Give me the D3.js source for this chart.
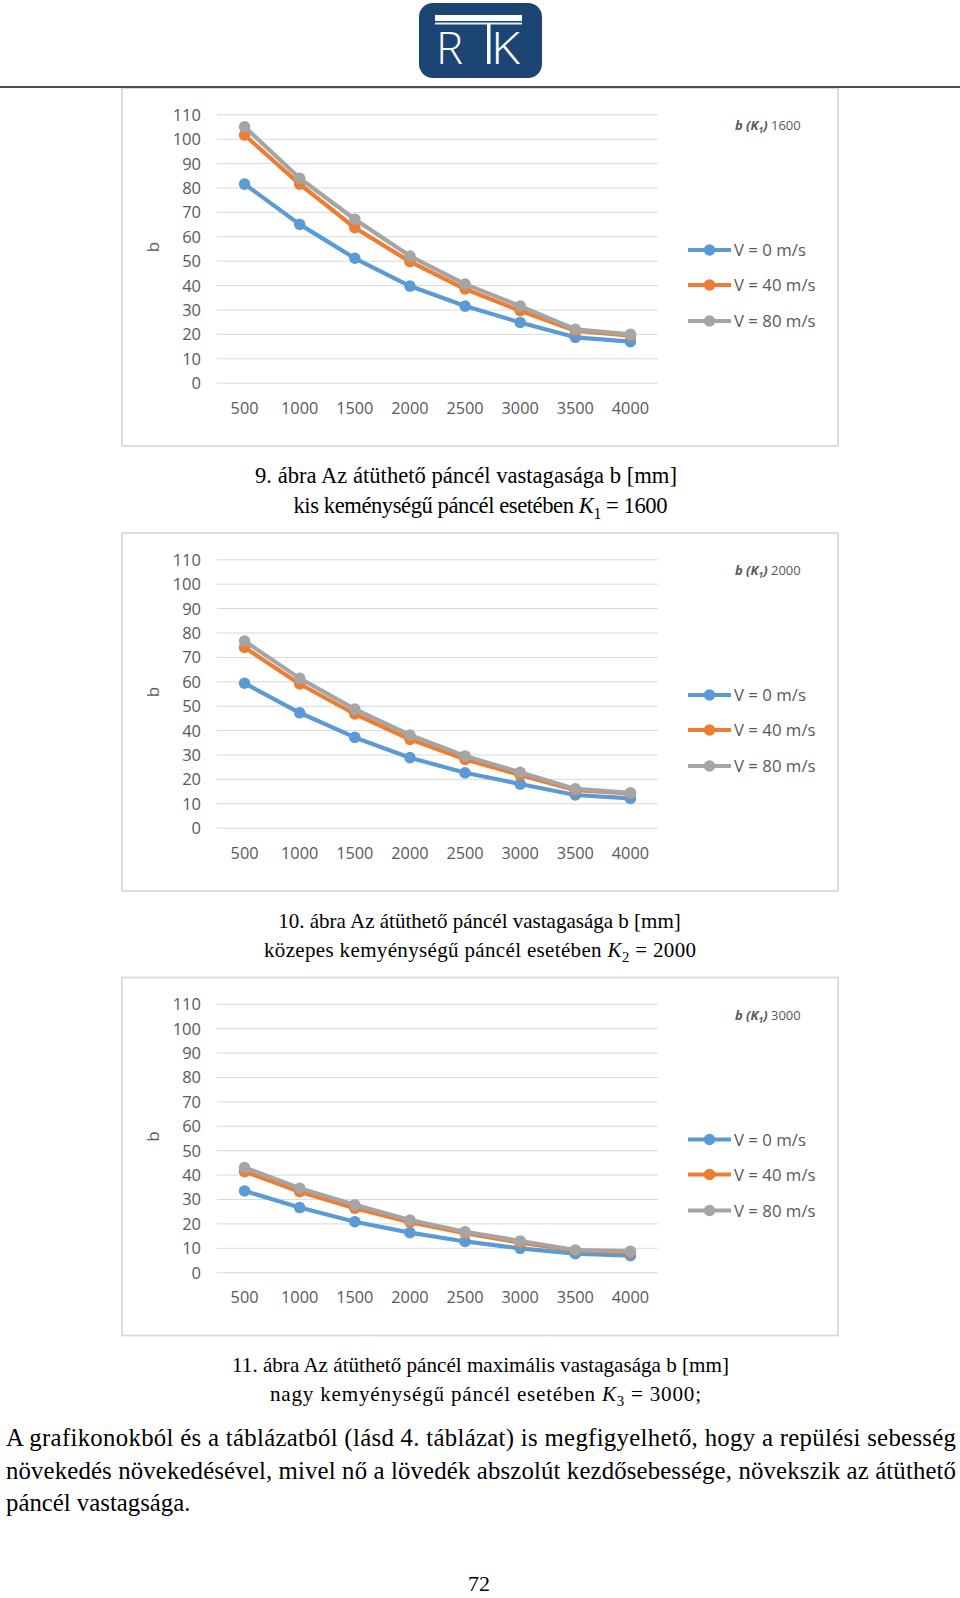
<!DOCTYPE html>
<html>
<head>
<meta charset="utf-8">
<script src="https://cdn.jsdelivr.net/npm/d3@7/dist/d3.min.js"></script>
<style>
  html, body { margin: 0; padding: 0; background: #fff; }
  svg { display: block; }
</style>
</head>
<body>
<svg id="page" width="960" height="1598"></svg>
<script>
// ---------------- DATA ----------------
const categories = [500, 1000, 1500, 2000, 2500, 3000, 3500, 4000];
const yTicks = [0, 10, 20, 30, 40, 50, 60, 70, 80, 90, 100, 110];
const seriesNames = ["V = 0 m/s", "V = 40 m/s", "V = 80 m/s"];
const seriesColors = ["#5b9bd5", "#ed7d31", "#a5a5a5"];

// K1 = 1600
const k1600_v0  = [81.4, 64.9, 51.0, 39.6, 31.4, 24.7, 18.6, 16.8];
const k1600_v40 = [101.5, 81.4, 63.5, 49.6, 38.4, 29.5, 21.3, 19.3];
const k1600_v80 = [104.9, 83.8, 67.0, 51.9, 40.4, 31.4, 21.9, 19.8];
// K2 = 2000
const k2000_v0  = [59.2, 47.1, 37.0, 28.7, 22.5, 17.9, 13.4, 12.0];
const k2000_v40 = [73.9, 58.9, 46.6, 36.2, 28.0, 21.6, 15.4, 14.1];
const k2000_v80 = [76.5, 61.2, 48.6, 38.0, 29.4, 22.7, 15.9, 14.3];
// K3 = 3000
const k3000_v0  = [33.3, 26.5, 20.7, 16.2, 12.6, 9.8, 7.6, 6.8];
const k3000_v40 = [41.2, 33.0, 26.2, 20.5, 16.0, 12.1, 8.9, 8.1];
const k3000_v80 = [42.9, 34.4, 27.6, 21.4, 16.6, 12.8, 9.1, 8.6];

const legendTitleValues = ["1600", "2000", "3000"];
const axisTitle = "b";

const captionLines = [
  ["9. ábra Az átüthető páncél vastagasága b [mm]", "kis keménységű páncél esetében ", "1", " = 1600"],
  ["10. ábra Az átüthető páncél vastagasága b [mm]", "közepes kemyénységű páncél esetében ", "2", " = 2000"],
  ["11. ábra Az átüthető páncél maximális vastagasága b [mm]", "nagy kemyénységű páncél esetében  ", "3", " = 3000;"]
];
const paragraphLines = [
  "A grafikonokból és a táblázatból (lásd 4. táblázat) is megfigyelhető, hogy a repülési sebesség",
  "növekedés növekedésével, mivel nő a lövedék abszolút kezdősebessége, növekszik az átüthető",
  "páncél vastagsága."
];
const pageNumber = "72";

const charts = [
  { dy: 0,     title: legendTitleValues[0], series: [k1600_v0, k1600_v40, k1600_v80] },
  { dy: 445,   title: legendTitleValues[1], series: [k2000_v0, k2000_v40, k2000_v80] },
  { dy: 889.5, title: legendTitleValues[2], series: [k3000_v0, k3000_v40, k3000_v80] }
];

// ---------------- DRAW ----------------
const svg = d3.select("#page");
const textColor = "#595959";
const chartFont = "'Open Sans', 'Noto Sans', sans-serif";
const serif = "'Liberation Serif', 'Times New Roman', serif";

// Logo
const logo = svg.append("g");
logo.append("rect").attr("x", 419).attr("y", 3).attr("width", 123).attr("height", 75)
  .attr("rx", 14).attr("fill", "#1d4573");
logo.append("rect").attr("x", 435).attr("y", 15).attr("width", 87).attr("height", 6).attr("fill", "#fff");
logo.append("rect").attr("x", 435).attr("y", 22.5).attr("width", 87).attr("height", 2).attr("fill", "#e8eef5");
logo.append("rect").attr("x", 487).attr("y", 24).attr("width", 3.5).attr("height", 40).attr("fill", "#fff");
logo.append("text").attr("x", 436).attr("y", 64).text("R")
  .attr("font-family", "'Open Sans', sans-serif").attr("font-weight", 300)
  .attr("font-size", 44).attr("fill", "#fff").attr("textLength", 27).attr("lengthAdjust", "spacingAndGlyphs");
logo.append("text").attr("x", 491).attr("y", 64).text("K")
  .attr("font-family", "'Open Sans', sans-serif").attr("font-weight", 300)
  .attr("font-size", 44).attr("fill", "#fff").attr("textLength", 29).attr("lengthAdjust", "spacingAndGlyphs");

// Charts
const xRange = [217, 658];
const x = d3.scaleBand().domain(categories).range(xRange).padding(0);
const xc = d => x(d) + x.bandwidth() / 2;

charts.forEach((c, ci) => {
  const g = svg.append("g").attr("transform", `translate(0,${c.dy})`);
  const y = d3.scaleLinear().domain([0, 110]).range([382.7, 114.3]);

  g.append("rect").attr("x", 122).attr("y", 88).attr("width", 716).attr("height", 358)
    .attr("fill", "#fff").attr("stroke", "#d9d9d9").attr("stroke-width", 1.8);

  // gridlines
  const grid = g.append("g").attr("transform", `translate(${xRange[0]},0)`)
    .call(d3.axisLeft(y).tickValues(yTicks).tickSize(-(xRange[1] - xRange[0])).tickFormat(""));
  grid.select(".domain").remove();
  grid.selectAll("line").attr("stroke", "#d9d9d9").attr("stroke-width", 1);

  // y labels
  const ya = g.append("g").attr("transform", `translate(${xRange[0]},0)`)
    .call(d3.axisLeft(y).tickValues(yTicks).tickSize(0).tickPadding(16));
  ya.select(".domain").remove();
  ya.selectAll("text").attr("font-family", chartFont).attr("font-size", 16.5)
    .attr("fill", textColor).attr("dy", "0.36em");

  // x labels
  const xa = g.append("g").attr("transform", `translate(0,${y(0)})`)
    .call(d3.axisBottom(x).tickSize(0).tickPadding(25));
  xa.select(".domain").remove();
  xa.selectAll("text").attr("font-family", chartFont).attr("font-size", 16.3)
    .attr("fill", textColor).attr("dy", "0.36em");

  // axis title
  g.append("text").attr("transform", "translate(153,247) rotate(-90)")
    .attr("text-anchor", "middle").attr("dy", "0.36em")
    .attr("font-family", chartFont).attr("font-size", 17).attr("fill", textColor)
    .text(axisTitle);

  // series
  const line = d3.line().x((d, i) => xc(categories[i])).y(d => y(d));
  c.series.forEach((s, si) => {
    g.append("path").datum(s).attr("d", line).attr("fill", "none")
      .attr("stroke", seriesColors[si]).attr("stroke-width", 4.2)
      .attr("stroke-linejoin", "round");
    g.selectAll(null).data(s).enter().append("circle")
      .attr("cx", (d, i) => xc(categories[i])).attr("cy", d => y(d)).attr("r", 5.8)
      .attr("fill", seriesColors[si]);
  });

  // legend title
  const lt = g.append("text").attr("x", 735).attr("y", 130)
    .attr("font-family", chartFont).attr("font-size", 13).attr("fill", textColor);
  lt.append("tspan").attr("font-weight", "bold").attr("font-style", "italic").text("b (K");
  lt.append("tspan").attr("font-weight", "bold").attr("font-style", "italic")
    .attr("font-size", 8.5).attr("dy", 3).text("1");
  lt.append("tspan").attr("font-weight", "bold").attr("font-style", "italic").attr("dy", -3).text(")");
  lt.append("tspan").text(" " + c.title);

  // legend items
  const legY = [250, 285, 321];
  seriesNames.forEach((name, si) => {
    g.append("line").attr("x1", 688).attr("x2", 731).attr("y1", legY[si]).attr("y2", legY[si])
      .attr("stroke", seriesColors[si]).attr("stroke-width", 4.2);
    g.append("circle").attr("cx", 709.5).attr("cy", legY[si]).attr("r", 5.8).attr("fill", seriesColors[si]);
    g.append("text").attr("x", 734).attr("y", legY[si]).attr("dy", "0.36em")
      .attr("font-family", chartFont).attr("font-size", 16.8).attr("fill", textColor).text(name);
  });
});

// Top rule (drawn on top of the first chart border)
svg.append("rect").attr("x", 0).attr("y", 86).attr("width", 960).attr("height", 2).attr("fill", "#4d4d4d");

// Captions
function fitWidth(sel, target) {
  const w = sel.node().getComputedTextLength();
  const fs = parseFloat(sel.attr("font-size"));
  const nfs = fs * target / w;
  sel.attr("font-size", nfs);
  return nfs;
}
const captionGeom = [
  { l1: [255, 677, 476], l2: [293.5, 667.5, 505.5] },
  { l1: [278, 681, 921], l2: [264, 696, 950] },
  { l1: [232, 729, 1365.5], l2: [270, 701, 1394] }
];
captionLines.forEach((cl, i) => {
  const geo = captionGeom[i];
  const t1 = svg.append("text").attr("x", (geo.l1[0] + geo.l1[1]) / 2).attr("y", geo.l1[2])
    .attr("dy", "0.33em").attr("text-anchor", "middle")
    .attr("font-family", serif).attr("font-size", 20).attr("fill", "#000").text(cl[0]);
  const fs = fitWidth(t1, geo.l1[1] - geo.l1[0]);
  const t2 = svg.append("text").attr("x", geo.l2[0]).attr("y", geo.l2[2] + 0.33 * fs)
    .attr("font-family", serif).attr("font-size", fs).attr("fill", "#000");
  t2.append("tspan").text(cl[1]);
  t2.append("tspan").attr("font-style", "italic").text("K");
  t2.append("tspan").attr("font-size", fs * 0.7).attr("dy", fs * 0.25).text(cl[2]);
  t2.append("tspan").attr("dy", -fs * 0.25).text(cl[3]);
  t2.attr("textLength", geo.l2[1] - geo.l2[0]).attr("lengthAdjust", "spacing");
});

// Paragraph
const p3 = svg.append("text").attr("x", 6).attr("y", 1503).attr("dy", "0.33em")
  .attr("font-family", serif).attr("font-size", 23).attr("fill", "#000").text(paragraphLines[2]);
const pfs = fitWidth(p3, 184.5);
[1438, 1470.5].forEach((yy, i) => {
  svg.append("text").attr("x", 6).attr("y", yy).attr("dy", "0.33em")
    .attr("font-family", serif).attr("font-size", pfs).attr("fill", "#000")
    .attr("textLength", 950).attr("lengthAdjust", "spacing").text(paragraphLines[i]);
});

// Page number
svg.append("text").attr("x", 479).attr("y", 1584).attr("dy", "0.33em").attr("text-anchor", "middle")
  .attr("font-family", serif).attr("font-size", 22).attr("fill", "#000").text(pageNumber);
</script>
</body>
</html>
